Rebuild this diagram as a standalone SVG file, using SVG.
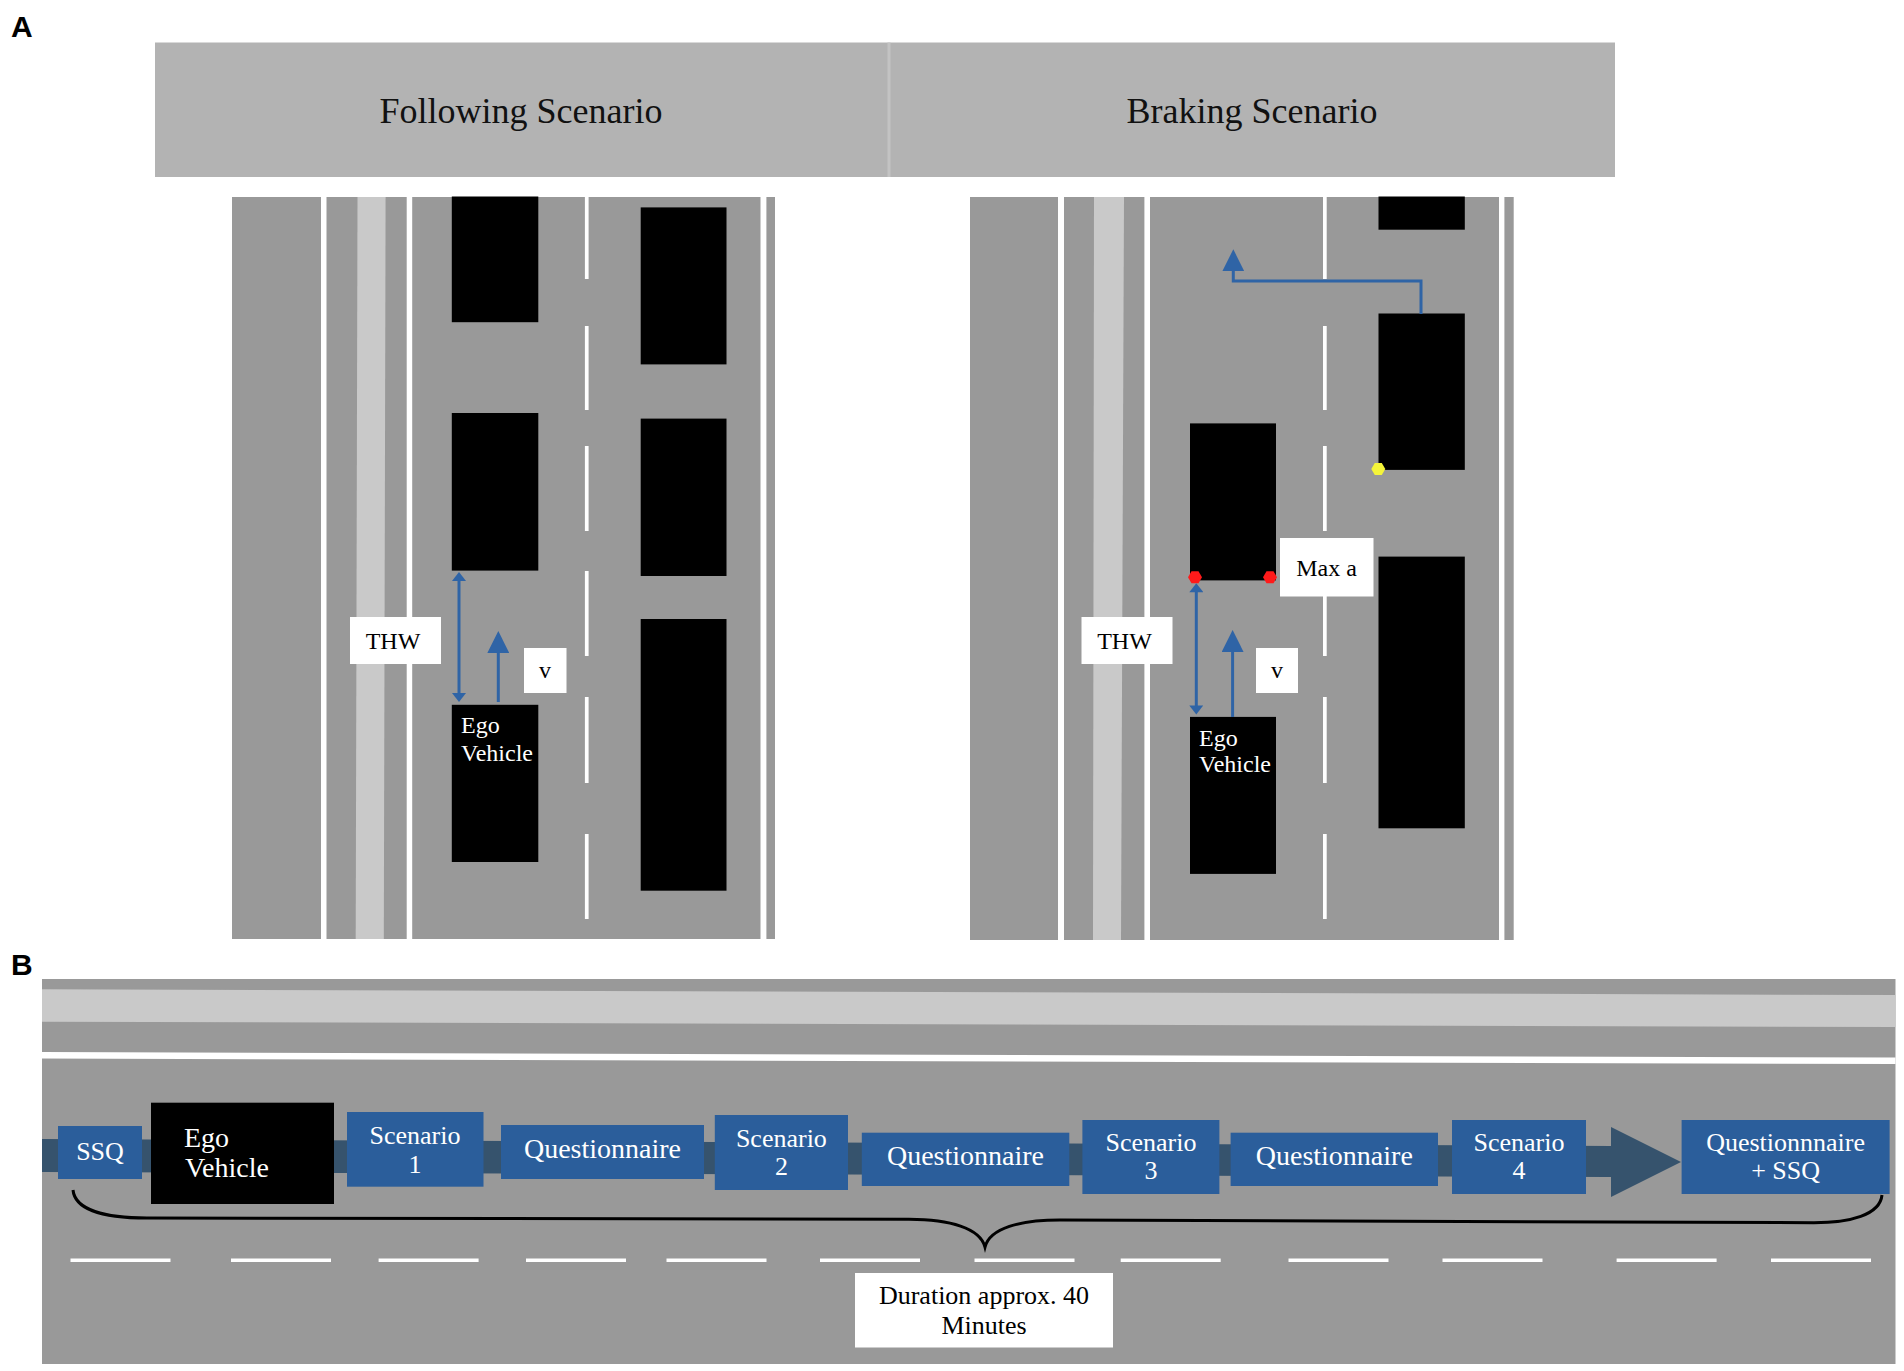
<svg xmlns="http://www.w3.org/2000/svg" width="1904" height="1371" viewBox="0 0 1904 1371">
<defs>
<style>
.road{fill:#999999}
.strip{fill:#c9c9c9}
.wl{fill:#ffffff}
.car{fill:#000000}
.serif{font-family:"Liberation Serif","Times New Roman",serif}
.panel{font-family:"Liberation Sans",Arial,sans-serif;font-weight:bold;font-size:30px;fill:#000}
.hdr{font-size:36px;fill:#111;text-anchor:middle}
.boxt{font-size:24px;fill:#000;text-anchor:middle}
.dur{font-size:26px;fill:#000;text-anchor:middle}
.egot{font-size:24px;fill:#fff}
.arr{stroke:#2f64a6;stroke-width:3;fill:none}
.blue{fill:#2b5e9b}
.bt{font-size:26px;fill:#fff;text-anchor:middle}
.qt{font-size:28px;fill:#fff;text-anchor:middle}
.dot-r{fill:#ff1a1a}
.dot-y{fill:#f5f53a}
</style>
<marker id="hs" markerUnits="userSpaceOnUse" markerWidth="10" markerHeight="14" viewBox="0 0 9 14" refX="3" refY="7" orient="auto-start-reverse">
<path d="M0,0 L9,7 L0,14 Z" fill="#2f64a6"/>
</marker>
<marker id="hl" markerUnits="userSpaceOnUse" markerWidth="22" markerHeight="22" viewBox="0 0 21 21" refX="6" refY="10.5" orient="auto">
<path d="M0,0 L21,10.5 L0,21 Z" fill="#2f64a6"/>
</marker>
</defs>
<rect width="1904" height="1371" fill="#ffffff"/>

<text class="panel" x="11" y="37">A</text>
<text class="panel" x="11" y="975">B</text>

<!-- Header -->
<g id="header">
<rect x="155" y="42.5" width="1460" height="134.5" fill="#b3b3b3"/>
<rect x="887.5" y="42.5" width="3" height="134.5" fill="#c3c3c3"/>
<text class="serif hdr" x="521" y="123">Following Scenario</text>
<text class="serif hdr" x="1252" y="123">Braking Scenario</text>
</g>

<!-- Left road (Following) -->
<g id="road-following">
<rect class="road" x="232" y="197" width="543" height="742"/>
<rect class="wl" x="321" y="197" width="5.5" height="742"/>
<rect class="wl" x="406.7" y="197" width="5.5" height="742"/>
<rect class="wl" x="760.5" y="197" width="5.9" height="742"/>
<polygon class="strip" points="357.5,197 385.6,197 383.8,939 355.7,939"/>
<g class="wl">
<rect x="584.9" y="196" width="3.7" height="83"/>
<rect x="584.9" y="326" width="3.7" height="84"/>
<rect x="584.9" y="446" width="3.7" height="85"/>
<rect x="584.9" y="571" width="3.7" height="85"/>
<rect x="584.9" y="697" width="3.7" height="86"/>
<rect x="584.9" y="834" width="3.7" height="85"/>
</g>
</g>
<g id="f-car1"><rect class="car" x="451.8" y="196.5" width="86.5" height="125.7"/></g>
<g id="f-car2"><rect class="car" x="451.8" y="413" width="86.5" height="157.6"/></g>
<g id="f-ego"><rect class="car" x="451.8" y="704.8" width="86.5" height="157.2"/>
<text class="serif egot" x="461" y="733">Ego</text>
<text class="serif egot" x="461" y="761">Vehicle</text></g>
<g id="f-car3"><rect class="car" x="640.7" y="207.4" width="85.8" height="157"/></g>
<g id="f-car4"><rect class="car" x="640.7" y="418.6" width="85.8" height="157.4"/></g>
<g id="f-car5"><rect class="car" x="640.7" y="619" width="85.8" height="271.7"/></g>
<g id="f-thw"><rect x="350" y="617" width="91" height="47" fill="#fff"/>
<text class="serif boxt" x="393" y="649" font-size="25">THW</text></g>
<g id="f-v"><rect x="524" y="648" width="42.5" height="45" fill="#fff"/>
<text class="serif boxt" x="545" y="678">v</text></g>

<!-- Right road (Braking) -->
<g id="road-braking">
<rect class="road" x="970" y="197" width="543.7" height="743"/>
<rect class="wl" x="1058" y="197" width="6" height="743"/>
<rect class="wl" x="1144.4" y="197" width="5.6" height="743"/>
<rect class="wl" x="1499" y="197" width="5.4" height="743"/>
<polygon class="strip" points="1094,197 1124,197 1121,940 1093,940"/>
<g class="wl">
<rect x="1323" y="196" width="3.7" height="83"/>
<rect x="1323" y="326" width="3.7" height="84"/>
<rect x="1323" y="446" width="3.7" height="85"/>
<rect x="1323" y="571" width="3.7" height="85"/>
<rect x="1323" y="697" width="3.7" height="86"/>
<rect x="1323" y="834" width="3.7" height="85"/>
</g>
</g>
<g id="b-car1"><rect class="car" x="1378.5" y="196.5" width="86.3" height="33.2"/></g>
<g id="b-car2"><rect class="car" x="1378.5" y="313.5" width="86.3" height="156.4"/></g>
<g id="b-car3"><rect class="car" x="1378.5" y="556.6" width="86.3" height="271.7"/></g>
<g id="b-lead"><rect class="car" x="1190" y="423.4" width="86" height="157"/></g>
<g id="b-ego"><rect class="car" x="1190" y="716.9" width="86" height="157"/>
<text class="serif egot" x="1199" y="746">Ego</text>
<text class="serif egot" x="1199" y="772">Vehicle</text></g>
<g id="b-thw"><rect x="1081.5" y="617" width="91" height="47" fill="#fff"/>
<text class="serif boxt" x="1124.5" y="649" font-size="25">THW</text></g>
<g id="b-v"><rect x="1256" y="648" width="42" height="45" fill="#fff"/>
<text class="serif boxt" x="1277" y="678">v</text></g>
<g id="b-maxa"><rect x="1280" y="538" width="93.5" height="58.5" fill="#fff"/>
<text class="serif boxt" x="1326.5" y="576">Max a</text></g>
<g id="b-lights">
<polygon class="dot-r" points="1188,577.3 1191.5,571.3 1198.5,571.3 1202,577.3 1198.5,583.3 1191.5,583.3"/>
<polygon class="dot-r" points="1263,577.3 1266.5,571.3 1273.5,571.3 1277,577.3 1273.5,583.3 1266.5,583.3"/>
<polygon class="dot-y" points="1371.3,469 1374.8,463 1381.8,463 1385.3,469 1381.8,475 1374.8,475"/>
</g>

<!-- Panel B road -->
<g id="road-timeline">
<rect class="road" x="42" y="979" width="1853.5" height="385"/>
<polygon class="strip" points="42,989.3 1895.5,995 1895.5,1027 42,1021.7"/>
<polygon class="wl" points="42,1052 1895.5,1057.5 1895.5,1064 42,1058.5"/>
<g class="wl">
<rect x="70.5" y="1258.5" width="100" height="3.5"/>
<rect x="231" y="1258.5" width="100" height="3.5"/>
<rect x="378.6" y="1258.5" width="100" height="3.5"/>
<rect x="526" y="1258.5" width="100" height="3.5"/>
<rect x="666.5" y="1258.5" width="100" height="3.5"/>
<rect x="820" y="1258.5" width="100" height="3.5"/>
<rect x="974.5" y="1258.5" width="100" height="3.5"/>
<rect x="1120.7" y="1258.5" width="100" height="3.5"/>
<rect x="1288.5" y="1258.5" width="100" height="3.5"/>
<rect x="1442.5" y="1258.5" width="100" height="3.5"/>
<rect x="1616.6" y="1258.5" width="100" height="3.5"/>
<rect x="1771" y="1258.5" width="100" height="3.5"/>
</g>
</g>

<!-- Connectors -->
<g id="connectors">
<line class="arr" x1="459" y1="578" x2="459" y2="696" marker-start="url(#hs)" marker-end="url(#hs)"/>
<line class="arr" x1="498.3" y1="702" x2="498.3" y2="646.7" marker-end="url(#hl)"/>
<line class="arr" x1="1196.3" y1="589.2" x2="1196.3" y2="708.4" marker-start="url(#hs)" marker-end="url(#hs)"/>
<line class="arr" x1="1232.6" y1="717" x2="1232.6" y2="645.7" marker-end="url(#hl)"/>
<polyline class="arr" points="1421,314 1421,281 1233.3,281 1233.3,265" marker-end="url(#hl)"/>
<polygon points="42,1139 1611,1146 1611,1127 1681,1162 1611,1197 1611,1177 42,1172" fill="#36536d"/>
<path d="M73,1190 C75,1210 105,1218 147,1218 L909,1219.3 C950,1219.5 980,1228 985,1247 C990,1228 1020,1220 1060,1220 L1814,1222.7 C1850,1222.7 1880,1215 1882,1195" fill="none" stroke="#000" stroke-width="3"/>
</g>

<!-- Timeline nodes -->
<g id="t-ssq"><rect class="blue" x="58" y="1126" width="84" height="53"/>
<text class="serif bt" x="100" y="1160" font-size="27">SSQ</text></g>
<g id="t-ego"><rect x="151" y="1102.7" width="183" height="101.3" fill="#000"/>
<text class="serif" x="184" y="1146.5" font-size="28" fill="#fff">Ego</text>
<text class="serif" x="185" y="1176.5" font-size="28" fill="#fff">Vehicle</text></g>
<g id="t-s1"><rect class="blue" x="347" y="1112" width="136.5" height="74.7"/>
<text class="serif bt" x="415" y="1144">Scenario</text>
<text class="serif bt" x="415" y="1173">1</text></g>
<g id="t-q1"><rect class="blue" x="501" y="1125" width="203" height="54"/>
<text class="serif qt" x="602.5" y="1158">Questionnaire</text></g>
<g id="t-s2"><rect class="blue" x="714.8" y="1115" width="133.2" height="75"/>
<text class="serif bt" x="781.4" y="1147">Scenario</text>
<text class="serif bt" x="781.4" y="1175">2</text></g>
<g id="t-q2"><rect class="blue" x="861.8" y="1132.7" width="207.5" height="53.3"/>
<text class="serif qt" x="965.5" y="1165">Questionnaire</text></g>
<g id="t-s3"><rect class="blue" x="1082.4" y="1120" width="137" height="74"/>
<text class="serif bt" x="1151" y="1151">Scenario</text>
<text class="serif bt" x="1151" y="1179">3</text></g>
<g id="t-q3"><rect class="blue" x="1230.6" y="1132.7" width="207.4" height="53.3"/>
<text class="serif qt" x="1334.3" y="1165">Questionnaire</text></g>
<g id="t-s4"><rect class="blue" x="1452" y="1120" width="134" height="74"/>
<text class="serif bt" x="1519" y="1151">Scenario</text>
<text class="serif bt" x="1519" y="1179">4</text></g>
<g id="t-final"><rect class="blue" x="1681.6" y="1120" width="208" height="74"/>
<text class="serif bt" x="1785.6" y="1151">Questionnnaire</text>
<text class="serif bt" x="1785.6" y="1179">+ SSQ</text></g>
<g id="t-duration"><rect x="855" y="1273" width="258" height="74.5" fill="#fff"/>
<text class="serif dur" x="984" y="1304">Duration approx. 40</text>
<text class="serif dur" x="984" y="1334">Minutes</text></g>
</svg>
